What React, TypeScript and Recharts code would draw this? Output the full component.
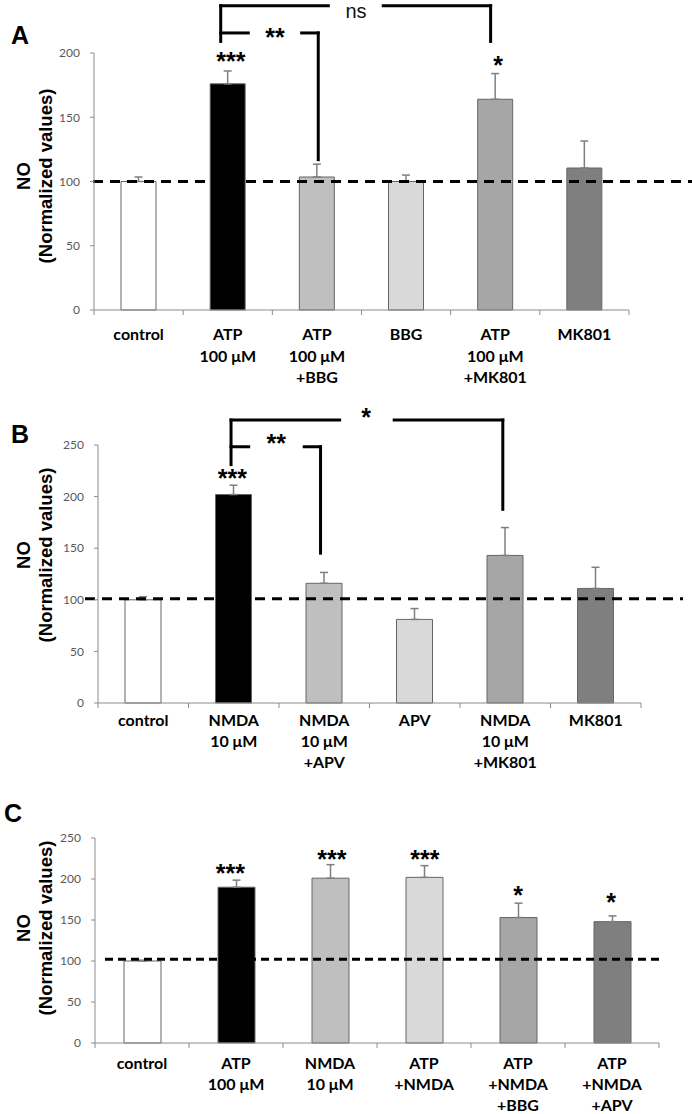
import React from 'react';
import { ComposedChart, Bar, XAxis, YAxis, ErrorBar, ReferenceLine, ReferenceDot, Cell } from 'recharts';

// ---------- data ----------
const catsA = ['control', 'ATP\n100 μM', 'ATP\n100 μM\n+BBG', 'BBG', 'ATP\n100 μM\n+MK801', 'MK801'];
const valsA = [100, 176, 103.5, 100, 164, 110.5];
const errsA = [3.5, 10, 10, 5, 20, 21];

const catsB = ['control', 'NMDA\n10 μM', 'NMDA\n10 μM\n+APV', 'APV', 'NMDA\n10 μM\n+MK801', 'MK801'];
const valsB = [100, 202, 116, 81, 143, 111];
const errsB = [3, 9, 10.5, 10.5, 27, 20.5];

const catsC = ['control', 'ATP\n100 μM', 'NMDA\n10 μM', 'ATP\n+NMDA', 'ATP\n+NMDA\n+BBG', 'ATP\n+NMDA\n+APV'];
const valsC = [100, 190, 201, 202, 153, 148];
const errsC = [1, 8.6, 16.5, 14.3, 17.5, 7];

const fills = ['#ffffff', '#000000', '#bfbfbf', '#d9d9d9', '#a6a6a6', '#7f7f7f'];

const ticksA = [0, 50, 100, 150, 200];
const ticksBC = [0, 50, 100, 150, 200, 250];
const boundaryTicks = [0, 1, 2, 3, 4, 5, 6];
const baselineLevels = [100, 101, 102];

// significance brackets (data space: x on 0..6 category scale, y in NO units)
const bracketsA = [
  [[1.421, 209], [1.421, 236.8]],
  [[1.421, 236.8], [2.628, 236.8]],
  [[3.244, 236.8], [4.448, 236.8]],
  [[4.448, 236.8], [4.448, 209]],
  [[1.421, 215.6], [1.73, 215.6]],
  [[2.329, 215.6], [2.515, 215.6]],
  [[2.515, 215.6], [2.515, 117]],
];
const marksA: [number, number, string][] = [
  [2.938, 233.7, 'ns'],
  [2.03, 216.2, '**'],
  [1.536, 197.4, '***'],
  [4.531, 194.8, '*'],
];
const bracketsB = [
  [[1.47, 231], [1.47, 274.2]],
  [[1.47, 274.2], [2.67, 274.2]],
  [[3.273, 274.2], [4.473, 274.2]],
  [[4.473, 274.2], [4.473, 187.7]],
  [[1.47, 248.3], [1.665, 248.3]],
  [[2.279, 248.3], [2.459, 248.3]],
  [[2.459, 248.3], [2.459, 145.2]],
];
const marksB: [number, number, string][] = [
  [2.963, 282.2, '*'],
  [1.97, 256.7, '**'],
  [1.484, 222.9, '***'],
];
const bracketsC: number[][][] = [];
const marksC: [number, number, string][] = [
  [1.441, 213.6, '***'],
  [2.519, 231, '***'],
  [3.51, 231, '***'],
  [4.5, 187.1, '*'],
  [5.49, 177.8, '*'],
];

const ARIAL = '"Liberation Sans", Arial, sans-serif';
const TICKFONT = 'Lato, "Open Sans", sans-serif';

const CatTick = (props: any) => {
  const { x, y, payload, firstDy, lineGap } = props;
  const lines = String(payload.value).split('\n');
  return (
    <g>
      {lines.map((l: string, i: number) => (
        <text key={i} x={x} y={y + firstDy + i * lineGap} textAnchor="middle" fontFamily={TICKFONT} fontWeight={700} fontSize={16} fill="#000">
          {l}
        </text>
      ))}
    </g>
  );
};

const markLabel = (text: string) => (lp: any) => {
  const vb = lp.viewBox || {};
  const cx = (vb.x || 0) + (vb.width || 0) / 2;
  const cy = (vb.y || 0) + (vb.height || 0) / 2;
  if (text === 'ns') {
    return (
      <text x={cx} y={cy + 8} textAnchor="middle" fontFamily={ARIAL} fontSize={20} fill="#111">
        {text}
      </text>
    );
  }
  return (
    <text x={cx} y={cy + 14} textAnchor="middle" fontFamily={ARIAL} fontWeight={700} fontSize={25} fill="#000">
      {text}
    </text>
  );
};

type PanelProps = {
  cats: string[];
  vals: number[];
  errs: number[];
  yMax: number;
  yTicks: number[];
  top: number;
  marginTop: number;
  plotH: number;
  catH: number;
  yWidth: number;
  marginRight: number;
  barSize: number;
  refY: number;
  dashStart: number;
  dashEnd: number;
  dash: string;
  brackets: number[][][];
  marks: [number, number, string][];
  firstDy: number;
  lineGap: number;
  labelCy: number;
  letter: string;
  letterLeft: number;
  letterTop: number;
};

function Panel(p: PanelProps) {
  const data = p.cats.map((c, i) => ({ name: c, idx: i, v: p.vals[i], e: [0, p.errs[i]] }));
  const height = p.marginTop + p.plotH + 6 + p.catH;
  const yLabel = (lp: any) => {
    const cy = p.labelCy;
    return (
      <g>
        <text transform={`translate(30,${cy}) rotate(-90)`} textAnchor="middle" fontFamily={ARIAL} fontWeight={700} fontSize={18.5} fill="#000">
          NO
        </text>
        <text transform={`translate(52,${cy}) rotate(-90)`} textAnchor="middle" fontFamily={ARIAL} fontWeight={700} fontSize={18.5} fill="#000">
          (Normalized values)
        </text>
      </g>
    );
  };
  return (
    <div style={{ position: 'absolute', left: 0, top: p.top, width: 692, height }}>
      <div
        style={{
          position: 'absolute',
          left: p.letterLeft,
          top: p.letterTop,
          fontFamily: ARIAL,
          fontWeight: 700,
          fontSize: 25,
          lineHeight: '25px',
          color: '#000',
          zIndex: 2,
        }}
      >
        {p.letter}
      </div>
      <ComposedChart
        width={692}
        height={height}
        data={data}
        margin={{ top: p.marginTop, right: p.marginRight, bottom: 0, left: 0 }}
        barSize={p.barSize}
      >
        <XAxis
          xAxisId="a_num"
          type="number"
          dataKey="idx"
          domain={[0, 6]}
          ticks={boundaryTicks}
          interval={0}
          tickFormatter={() => ''}
          tickSize={5}
          height={6}
          stroke="#8c8c8c"
          tickLine={{ stroke: '#8c8c8c' }}
          axisLine={{ stroke: '#8c8c8c' }}
        />
        <XAxis
          xAxisId="b_cat"
          dataKey="name"
          type="category"
          interval={0}
          axisLine={false}
          tickLine={false}
          tickSize={0}
          tickMargin={0}
          height={p.catH}
          tick={<CatTick firstDy={p.firstDy} lineGap={p.lineGap} />}
        />
        <YAxis
          width={p.yWidth}
          domain={[0, p.yMax]}
          ticks={p.yTicks}
          interval={0}
          tickSize={4}
          tickMargin={10}
          stroke="#8c8c8c"
          axisLine={{ stroke: '#8c8c8c' }}
          tickLine={{ stroke: '#8c8c8c' }}
          tick={{ fill: '#595959', fontSize: 12, fontFamily: TICKFONT }}
          label={yLabel}
        />
        <Bar dataKey="v" xAxisId="b_cat" isAnimationActive={false} stroke="#666666" strokeWidth={1}>
          {data.map((d, i) => (
            <Cell key={i} fill={fills[i]} />
          ))}
          <ErrorBar dataKey="e" width={4} stroke="#7f7f7f" strokeWidth={1.5} direction="y" isAnimationActive={false} />
        </Bar>
        <ReferenceLine
          y={p.refY}
          xAxisId="a_num"
          ifOverflow="visible"
          stroke="#000"
          shape={(lp: any) => (
            <line x1={p.dashStart} y1={lp.y1} x2={p.dashEnd} y2={lp.y1} stroke="#000" strokeWidth={3} strokeDasharray={p.dash} />
          )}
        />
        {p.brackets.map((s, i) => (
          <ReferenceLine
            key={'b' + i}
            xAxisId="a_num"
            ifOverflow="visible"
            segment={[
              { x: s[0][0], y: s[0][1] },
              { x: s[1][0], y: s[1][1] },
            ]}
            stroke="#000"
            strokeWidth={3}
            strokeLinecap="square"
          />
        ))}
        {p.marks.map((m, i) => (
          <ReferenceDot
            key={'m' + i}
            xAxisId="a_num"
            x={m[0]}
            y={m[1]}
            r={0}
            fill="none"
            stroke="none"
            ifOverflow="visible"
            label={markLabel(m[2])}
          />
        ))}
      </ComposedChart>
    </div>
  );
}

export default function App() {
  return (
    <div style={{ position: 'absolute', left: 0, top: 0, width: 692, height: 1114, background: '#fff', overflow: 'hidden' }}>
      <Panel
        cats={catsA}
        vals={valsA}
        errs={errsA}
        yMax={200}
        yTicks={ticksA}
        top={0}
        marginTop={53}
        plotH={257}
        catH={70}
        yWidth={94}
        marginRight={63}
        barSize={35}
        refY={baselineLevels[0]}
        dashStart={93}
        dashEnd={692}
        dash="10 7"
        brackets={bracketsA}
        marks={marksA}
        firstDy={24}
        lineGap={21.7}
        labelCy={176}
        letter="A"
        letterLeft={11}
        letterTop={23}
        />
      <Panel
        cats={catsB}
        vals={valsB}
        errs={errsB}
        yMax={250}
        yTicks={ticksBC}
        top={390}
        marginTop={55}
        plotH={258}
        catH={70}
        yWidth={98}
        marginRight={51}
        barSize={36}
        refY={baselineLevels[1]}
        dashStart={85}
        dashEnd={683}
        dash="10 7"
        brackets={bracketsB}
        marks={marksB}
        firstDy={17}
        lineGap={21}
        labelCy={165}
        letter="B"
        letterLeft={11}
        letterTop={32}
      />
      <Panel
        cats={catsC}
        vals={valsC}
        errs={errsC}
        yMax={250}
        yTicks={ticksBC}
        top={780}
        marginTop={58}
        plotH={205}
        catH={64}
        yWidth={95}
        marginRight={33}
        barSize={37}
        refY={baselineLevels[2]}
        dashStart={105}
        dashEnd={662}
        dash="8 5"
        brackets={bracketsC}
        marks={marksC}
        firstDy={19.5}
        lineGap={21}
        labelCy={148}
        letter="C"
        letterLeft={4}
        letterTop={21}
      />
    </div>
  );
}
